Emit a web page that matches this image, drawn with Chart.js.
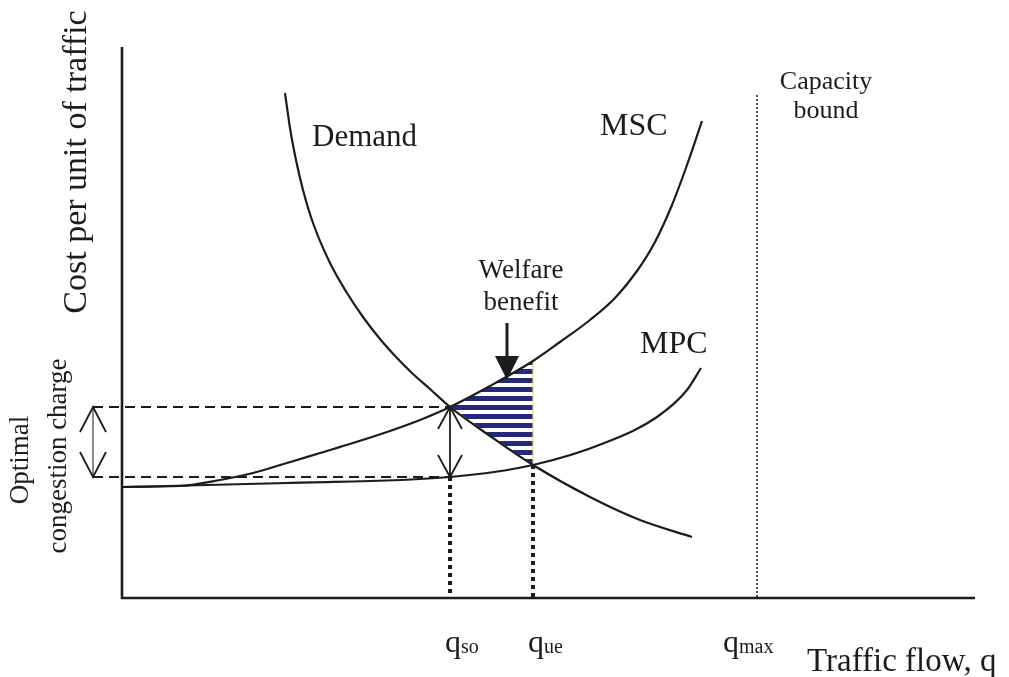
<!DOCTYPE html>
<html>
<head>
<meta charset="utf-8">
<script src="https://cdn.jsdelivr.net/npm/chart.js@4.4.1/dist/chart.umd.min.js"></script>
<style>
  html, body { margin: 0; padding: 0; background: #fff; }
  #wrap { width: 1009px; height: 677px; }
</style>
</head>
<body>
<div id="wrap"><canvas id="chart" width="1009" height="677"></canvas></div>
<script>
// Congestion charge diagram: Demand, MSC and MPC curves over traffic flow
// values (x = traffic flow, y = cost per unit of traffic)

const demandQ    = [163, 168, 174, 181, 191, 208, 225, 241, 258, 275, 291, 308, 328, 368, 411, 468, 518, 570];
const demandCost = [505, 470, 438, 408, 375, 335, 305, 281, 259, 240, 224, 209, 191, 162, 133, 101, 78, 61];

const mscQ    = [0, 58, 98, 131, 165, 198, 231, 265, 298, 328, 368, 411, 438, 468, 493, 515, 533, 550, 565, 580];
const mscCost = [111, 112, 118, 125, 135, 145, 155, 166, 178, 191, 212, 237, 256, 278, 300, 327, 356, 393, 433, 477];

const mpcQ    = [0, 165, 328, 411, 485, 535, 565, 579];
const mpcCost = [111, 115, 121, 133, 156, 181, 208, 230];

// marked flows on the x axis
const tickQ    = [328, 411, 635];
const tickMain = ['q', 'q', 'q'];
const tickSub  = ['so', 'ue', 'max'];

const qSo = tickQ[0], qUe = tickQ[1], qMax = tickQ[2];
const axisTop = 551;     // top of cost axis
const axisEnd = 853;     // end of flow axis
const capacityTop = 503;

const chargeTop    = mscCost[mscQ.indexOf(qSo)];
const chargeBottom = mpcCost[mpcQ.indexOf(qSo)];
const ueCost       = mpcCost[mpcQ.indexOf(qUe)];

// annotation anchors (data units)
const chargeArrowQ = -29;
const welfareArrow = { q: 385, from: 275, to: 218 };

const pts = (xs, ys) => xs.map((v, i) => ({ x: v, y: ys[i] }));

// welfare triangle: along MSC from qso to que, back along Demand
const welfare = pts(mscQ, mscCost).filter(p => p.x >= qSo && p.x <= qUe)
  .concat(pts(demandQ, demandCost).filter(p => p.x >= qSo && p.x <= qUe).reverse());

function stripes() {
  const c = document.createElement('canvas');
  c.width = 8; c.height = 9;
  const g = c.getContext('2d');
  g.fillStyle = '#ffffff'; g.fillRect(0, 0, 8, 9);
  g.fillStyle = '#28287a'; g.fillRect(0, 0, 8, 5);
  return g.createPattern(c, 'repeat');
}

const INK = '#1c1c1c';
const line = (data, extra) => Object.assign({
  data, borderColor: INK, borderWidth: 2.2, pointRadius: 0, fill: false, tension: 0, clip: false
}, extra);
const curve = { cubicInterpolationMode: 'monotone' };

const labels = [
  { t: 'Demand', x: 190, y: 452, size: 31 },
  { t: 'MSC', x: 478, y: 463, size: 32 },
  { t: 'MPC', x: 518, y: 245, size: 32 },
  { t: 'Capacity', x: 704, y: 509, size: 26, align: 'center' },
  { t: 'bound', x: 704, y: 480, size: 26, align: 'center' },
  { t: 'Welfare', x: 399, y: 320, size: 27, align: 'center' },
  { t: 'benefit', x: 399, y: 288, size: 27, align: 'center' },
  { t: 'Cost per unit of traffic', x: -36, y: 436, size: 34, align: 'center', rot: true },
  { t: 'Optimal', x: -94, y: 138, size: 27, align: 'center', rot: true },
  { t: 'congestion charge', x: -56, y: 142, size: 27, align: 'center', rot: true },
  { t: 'Traffic flow, q', x: 685, y: -73, size: 33 }
];
const tickLabelX = [323, 406, 601];
const tickLabelY = -54;

const annotate = {
  id: 'annotate',
  afterDatasetsDraw(chart) {
    const { ctx, scales: { x, y } } = chart;
    const X = v => x.getPixelForValue(v), Y = v => y.getPixelForValue(v);
    ctx.save();
    ctx.fillStyle = INK;
    ctx.strokeStyle = INK;
    ctx.textBaseline = 'alphabetic';

    labels.forEach(l => {
      ctx.font = l.size + 'px "Liberation Serif", "DejaVu Serif", serif';
      ctx.textAlign = l.align || 'left';
      if (l.rot) {
        ctx.save();
        ctx.translate(X(l.x), Y(l.y));
        ctx.rotate(-Math.PI / 2);
        ctx.fillText(l.t, 0, 0);
        ctx.restore();
      } else {
        ctx.fillText(l.t, X(l.x), Y(l.y));
      }
    });

    // q labels with subscripts
    ctx.textAlign = 'left';
    tickMain.forEach((m, i) => {
      ctx.font = '32px "Liberation Serif", serif';
      const px = X(tickLabelX[i]), py = Y(tickLabelY);
      ctx.fillText(m, px, py);
      const w = ctx.measureText(m).width;
      ctx.font = '20px "Liberation Serif", serif';
      ctx.fillText(tickSub[i], px + w, py + 1);
    });

    // open arrow heads on the congestion charge arrows
    ctx.lineWidth = 1.8;
    const openHead = (q, v, dir, len, hw) => {
      const tx = X(q), ty = Y(v);
      ctx.beginPath();
      ctx.moveTo(tx - hw, ty + dir * len);
      ctx.lineTo(tx, ty);
      ctx.lineTo(tx + hw, ty + dir * len);
      ctx.stroke();
    };
    openHead(qSo, chargeTop, 1, 22, 12);
    openHead(qSo, chargeBottom, -1, 22, 12);
    openHead(chargeArrowQ, chargeTop, 1, 25, 13);
    openHead(chargeArrowQ, chargeBottom, -1, 25, 13);

    // filled head on the welfare arrow
    const tx = X(welfareArrow.q), ty = Y(welfareArrow.to);
    ctx.beginPath();
    ctx.moveTo(tx - 12, ty - 24);
    ctx.lineTo(tx + 12, ty - 24);
    ctx.lineTo(tx, ty);
    ctx.closePath();
    ctx.fill();
    ctx.restore();
  }
};

new Chart(document.getElementById('chart'), {
  type: 'line',
  data: {
    datasets: [
      line(pts(demandQ, demandCost), curve),
      line(pts(mscQ, mscCost), curve),
      line(pts(mpcQ, mpcCost), curve),
      line([{ x: 0, y: axisTop }, { x: 0, y: 0 }, { x: axisEnd, y: 0 }], { borderWidth: 2.6 }),
      line([{ x: chargeArrowQ, y: chargeTop }, { x: qSo, y: chargeTop }], { borderDash: [10, 6], borderWidth: 2 }),
      line([{ x: chargeArrowQ, y: chargeBottom }, { x: qSo, y: chargeBottom }], { borderDash: [10, 6], borderWidth: 2 }),
      line([{ x: qSo, y: chargeBottom }, { x: qSo, y: 0 }], { borderDash: [4, 4], borderWidth: 4 }),
      line([{ x: qUe, y: ueCost }, { x: qUe, y: 0 }], { borderDash: [4, 4], borderWidth: 4 }),
      line([{ x: qMax, y: capacityTop }, { x: qMax, y: 0 }], { borderDash: [2, 2], borderWidth: 1.5 }),
      line([{ x: qSo, y: chargeTop }, { x: qSo, y: chargeBottom }], { borderWidth: 1.8 }),
      line([{ x: chargeArrowQ, y: chargeTop }, { x: chargeArrowQ, y: chargeBottom }], { borderWidth: 1.5, borderColor: '#6b6658' }),
      line([{ x: welfareArrow.q, y: welfareArrow.from }, { x: welfareArrow.q, y: welfareArrow.to + 20 }], { borderWidth: 3 }),
      line(welfare, { fill: 'shape', backgroundColor: stripes(), borderColor: '#e2da74', borderWidth: 1.2, order: 5 })
    ]
  },
  options: {
    responsive: false,
    animation: false,
    devicePixelRatio: 1,
    events: [],
    layout: { padding: 0 },
    scales: {
      x: { type: 'linear', min: -122, max: 887, display: false },
      y: { type: 'linear', min: -79, max: 598, display: false }
    },
    plugins: { legend: { display: false }, tooltip: { enabled: false } }
  },
  plugins: [annotate]
});
</script>
</body>
</html>
